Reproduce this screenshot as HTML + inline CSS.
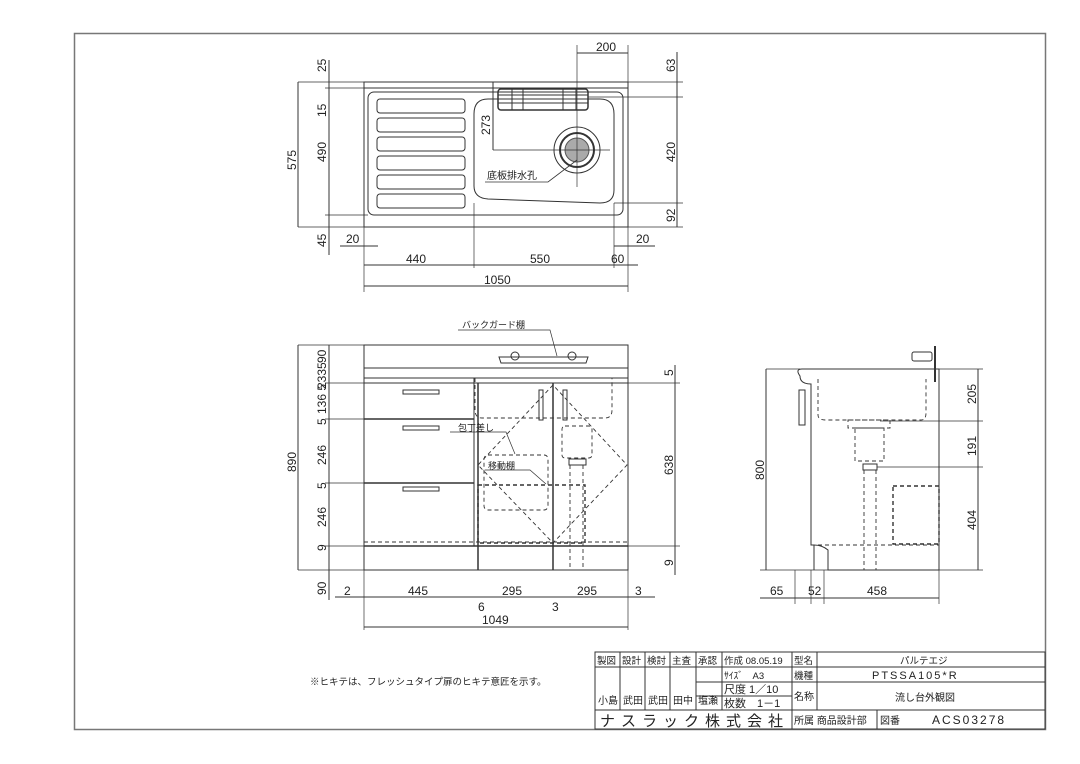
<!DOCTYPE html>
<html><head><meta charset="utf-8"><style>
html,body{margin:0;padding:0;background:#fff}
svg{display:block}
text{font-family:"Liberation Sans","Noto Sans CJK JP",sans-serif;fill:#222}
.d{font-size:12px}
</style></head><body>
<svg width="1080" height="764" viewBox="0 0 1080 764" xmlns="http://www.w3.org/2000/svg" stroke="#333" fill="none" stroke-width="1">
<rect x="74.5" y="33.5" width="971" height="696" stroke="#777" stroke-width="1.5"/>

<!-- ===== TOP VIEW ===== -->
<rect x="364" y="82" width="264" height="145"/>
<line x1="364" y1="88" x2="628" y2="88"/>
<rect x="368" y="92" width="255" height="123" rx="6"/>
<g>
<rect x="377" y="99" width="88" height="14" rx="3"/>
<rect x="377" y="118" width="88" height="14" rx="3"/>
<rect x="377" y="137" width="88" height="14" rx="3"/>
<rect x="377" y="156" width="88" height="14" rx="3"/>
<rect x="377" y="175" width="88" height="14" rx="3"/>
<rect x="377" y="194" width="88" height="14" rx="3"/>
</g>
<path d="M488 99 H600 Q614 99 614 114 V190 Q614 203 600 203 Q540 201 488 199 Q474 198 474 186 V114 Q474 99 488 99 Z"/>
<rect x="498" y="89" width="90" height="21" rx="3" stroke-width="1.5"/>
<line x1="498" y1="95" x2="588" y2="95"/><line x1="498" y1="103" x2="588" y2="103"/>
<line x1="512" y1="89" x2="512" y2="110"/><line x1="523" y1="89" x2="523" y2="110"/><line x1="563" y1="89" x2="563" y2="110"/><line x1="576" y1="89" x2="576" y2="110"/>
<circle cx="577" cy="150" r="23"/><circle cx="577" cy="150" r="17" stroke-width="2"/><circle cx="577" cy="150" r="12" fill="#aaa" stroke="#555"/>
<line x1="545" y1="150" x2="610" y2="150" stroke-width="0.7"/><line x1="577" y1="45" x2="577" y2="187" stroke-width="0.7"/>
<!-- dims top -->
<line x1="298" y1="82" x2="364" y2="82" stroke-width=".7"/><line x1="298" y1="227" x2="364" y2="227" stroke-width=".7"/>
<line x1="298" y1="82" x2="298" y2="227"/>
<line x1="329" y1="60" x2="329" y2="255"/>
<line x1="325" y1="88" x2="364" y2="88" stroke-width=".7"/><line x1="325" y1="215" x2="368" y2="215" stroke-width=".7"/>
<line x1="493" y1="82" x2="493" y2="150"/><line x1="493" y1="150" x2="545" y2="150" stroke-width=".7"/>
<line x1="577" y1="53" x2="628" y2="53"/><line x1="628" y1="45" x2="628" y2="82" stroke-width=".7"/>
<line x1="677" y1="52" x2="677" y2="227"/>
<line x1="628" y1="82" x2="683" y2="82" stroke-width=".7"/><line x1="588" y1="97" x2="683" y2="97" stroke-width=".7"/><line x1="614" y1="203" x2="683" y2="203" stroke-width=".7"/><line x1="628" y1="227" x2="683" y2="227" stroke-width=".7"/>
<line x1="364" y1="227" x2="364" y2="292" stroke-width=".7"/><line x1="628" y1="227" x2="628" y2="292" stroke-width=".7"/>
<line x1="474" y1="203" x2="474" y2="268" stroke-width=".7"/><line x1="614" y1="203" x2="614" y2="268" stroke-width=".7"/>
<line x1="340" y1="246" x2="378" y2="246"/><line x1="614" y1="246" x2="655" y2="246"/>
<line x1="364" y1="265" x2="638" y2="265"/>
<line x1="364" y1="286" x2="628" y2="286"/>
<path d="M577 160 L548 182 H485" stroke-width=".8"/>
<text x="487" y="179" font-size="10" stroke="none">底板排水孔</text>
<g stroke="none">
<text x="596" y="51" class="d">200</text>
<text x="406" y="263" class="d">440</text>
<text x="530" y="263" class="d">550</text>
<text x="611" y="263" class="d">60</text>
<text x="346" y="243" class="d">20</text>
<text x="636" y="243" class="d">20</text>
<text x="484" y="284" class="d">1050</text>
<text class="d" transform="translate(296,170) rotate(-90)">575</text>
<text class="d" transform="translate(326,72) rotate(-90)">25</text>
<text class="d" transform="translate(326,117) rotate(-90)">15</text>
<text class="d" transform="translate(326,162) rotate(-90)">490</text>
<text class="d" transform="translate(326,247) rotate(-90)">45</text>
<text class="d" transform="translate(490,135) rotate(-90)">273</text>
<text class="d" transform="translate(675,72) rotate(-90)">63</text>
<text class="d" transform="translate(675,162) rotate(-90)">420</text>
<text class="d" transform="translate(675,222) rotate(-90)">92</text>
</g>

<!-- ===== FRONT VIEW ===== -->
<rect x="364" y="345" width="264" height="225"/>
<line x1="364" y1="368" x2="628" y2="368"/>
<line x1="364" y1="378" x2="628" y2="378"/>
<line x1="364" y1="383" x2="628" y2="383"/>
<line x1="364" y1="546" x2="628" y2="546" stroke-width="1.5"/>
<line x1="364" y1="419" x2="474" y2="419" stroke-width="1.5"/>
<line x1="364" y1="483" x2="474" y2="483" stroke-width="1.5"/>
<line x1="474" y1="378" x2="474" y2="546"/><line x1="478" y1="383" x2="478" y2="570" stroke-width="1.5"/>
<line x1="553" y1="383" x2="553" y2="570" stroke-width="1.5"/>
<rect x="403" y="390" width="36" height="4"/><rect x="403" y="426" width="36" height="4"/><rect x="403" y="487" width="36" height="4"/>
<path d="M499 357 H588 L586 363 H501 Z"/><circle cx="515" cy="356" r="4"/><circle cx="572" cy="356" r="4"/>
<rect x="539" y="390" width="4" height="30"/><rect x="563" y="390" width="4" height="30"/>
<g stroke-dasharray="4 3" stroke-width=".9">
<path d="M553 385 L478 465 L553 543 L627 465 Z"/>
<path d="M475 378 V410 Q475 418 482 418 H605 Q612 418 612 410 V378"/>
<rect x="484" y="455" width="64" height="55" rx="4"/>
<rect x="478" y="485" width="107" height="58" stroke-width="1.4"/>
<rect x="562" y="426" width="30" height="32" rx="3"/>
<line x1="570" y1="465" x2="570" y2="570"/><line x1="583" y1="465" x2="583" y2="570"/>
<line x1="364" y1="542" x2="628" y2="542"/>
</g>
<rect x="569" y="459" width="17" height="6"/>
<path d="M450 432 H506 L515 454" stroke-width=".7"/><text x="458" y="431" font-size="9" stroke="none">包丁差し</text>
<path d="M485 470 H530 L546 484" stroke-width=".7"/><text x="488" y="469" font-size="9" stroke="none">移動棚</text>
<path d="M458 330 H550 L557 356" stroke-width=".7"/><text x="462" y="328" font-size="9" stroke="none">バックガード棚</text>
<!-- front dims -->
<line x1="298" y1="345" x2="364" y2="345" stroke-width=".7"/><line x1="298" y1="570" x2="364" y2="570" stroke-width=".7"/>
<line x1="298" y1="345" x2="298" y2="570"/>
<line x1="329" y1="345" x2="329" y2="600"/>
<line x1="325" y1="383" x2="364" y2="383" stroke-width=".7"/><line x1="325" y1="419" x2="364" y2="419" stroke-width=".7"/>
<line x1="325" y1="483" x2="364" y2="483" stroke-width=".7"/><line x1="325" y1="546" x2="364" y2="546" stroke-width=".7"/>
<line x1="628" y1="383" x2="680" y2="383" stroke-width=".7"/><line x1="628" y1="546" x2="680" y2="546" stroke-width=".7"/>
<line x1="675" y1="365" x2="675" y2="575"/>
<line x1="364" y1="570" x2="364" y2="630" stroke-width=".7"/><line x1="628" y1="570" x2="628" y2="630" stroke-width=".7"/>
<line x1="335" y1="597" x2="655" y2="597"/>
<line x1="364" y1="627" x2="628" y2="627"/>
<g stroke="none">
<text class="d" x="344" y="595">2</text><text class="d" x="408" y="595">445</text>
<text class="d" x="502" y="595">295</text><text class="d" x="577" y="595">295</text>
<text class="d" x="635" y="595">3</text><text class="d" x="478" y="611">6</text><text class="d" x="552" y="611">3</text>
<text class="d" x="482" y="624">1049</text>
<text class="d" transform="translate(296,472) rotate(-90)">890</text>
<text class="d" font-size="11" transform="translate(326,363) rotate(-90)">90</text>
<text class="d" font-size="11" transform="translate(326,389) rotate(-90)">2335</text>
<text class="d" font-size="11" transform="translate(326,414) rotate(-90)">136 5</text>
<text class="d" transform="translate(326,425) rotate(-90)">5</text>
<text class="d" transform="translate(326,465) rotate(-90)">246</text>
<text class="d" transform="translate(326,489) rotate(-90)">5</text>
<text class="d" transform="translate(326,527) rotate(-90)">246</text>
<text class="d" transform="translate(326,551) rotate(-90)">9</text>
<text class="d" transform="translate(326,595) rotate(-90)">90</text>
<text class="d" transform="translate(673,376) rotate(-90)">5</text>
<text class="d" transform="translate(673,475) rotate(-90)">638</text>
<text class="d" transform="translate(673,566) rotate(-90)">9</text>
</g>

<!-- ===== SIDE VIEW ===== -->
<path d="M800 376 Q795 369 802 369 H939 V570 H828 V550 Q822 545 814 545 H811 V384 Q800 384 800 376 Z"/>
<line x1="814" y1="545" x2="814" y2="570"/>
<path d="M935 346 V382" stroke-width="2"/>
<rect x="912" y="352" width="20" height="9" rx="2"/>
<rect x="799" y="390" width="6" height="35"/>
<g stroke-dasharray="4 3" stroke-width=".9">
<path d="M818 379 V415 Q818 420 826 420 H921 Q926 420 926 413 V379"/>
<rect x="848" y="420" width="42" height="8"/>
<rect x="855" y="428" width="29" height="33"/>
<line x1="864" y1="470" x2="864" y2="570"/><line x1="876" y1="470" x2="876" y2="570"/>
<rect x="893" y="486" width="46" height="58" stroke-width="1.4"/>
<line x1="818" y1="545" x2="939" y2="545"/>
</g>
<rect x="863" y="464" width="14" height="6"/>
<line x1="766" y1="369" x2="800" y2="369" stroke-width=".7"/><line x1="939" y1="369" x2="983" y2="369" stroke-width=".7"/>
<line x1="766" y1="369" x2="766" y2="570"/><line x1="760" y1="570" x2="939" y2="570" stroke-width=".7"/>
<line x1="978" y1="369" x2="978" y2="570"/>
<line x1="880" y1="421" x2="983" y2="421" stroke-width=".7"/><line x1="877" y1="467" x2="983" y2="467" stroke-width=".7"/>
<line x1="939" y1="570" x2="983" y2="570" stroke-width=".7"/>
<line x1="760" y1="598" x2="939" y2="598"/>
<line x1="795" y1="570" x2="795" y2="604" stroke-width=".7"/><line x1="811" y1="570" x2="811" y2="604" stroke-width=".7"/><line x1="824" y1="570" x2="824" y2="604" stroke-width=".7"/><line x1="939" y1="570" x2="939" y2="604" stroke-width=".7"/>
<g stroke="none">
<text class="d" x="770" y="595">65</text><text class="d" x="808" y="595">52</text><text class="d" x="867" y="595">458</text>
<text class="d" transform="translate(764,480) rotate(-90)">800</text>
<text class="d" transform="translate(976,404) rotate(-90)">205</text>
<text class="d" transform="translate(976,456) rotate(-90)">191</text>
<text class="d" transform="translate(976,530) rotate(-90)">404</text>
</g>

<!-- note -->
<text x="310" y="685" font-size="9.5" stroke="none">※ヒキテは、フレッシュタイプ扉のヒキテ意匠を示す。</text>

<!-- ===== TITLE BLOCK ===== -->
<g stroke-width="1">
<rect x="595" y="652" width="450" height="77"/>
<line x1="595" y1="667" x2="1045" y2="667"/>
<line x1="696" y1="682" x2="1045" y2="682"/>
<line x1="696" y1="696" x2="792" y2="696"/>
<line x1="595" y1="710" x2="1045" y2="710"/>
<line x1="620" y1="652" x2="620" y2="710"/><line x1="645" y1="652" x2="645" y2="710"/>
<line x1="670" y1="652" x2="670" y2="710"/><line x1="696" y1="652" x2="696" y2="710"/>
<line x1="722" y1="652" x2="722" y2="710"/><line x1="792" y1="652" x2="792" y2="729"/>
<line x1="817" y1="652" x2="817" y2="710"/><line x1="877" y1="710" x2="877" y2="729"/>
</g>
<g stroke="none" font-size="9.5">
<text x="597" y="664">製図</text><text x="622" y="664">設計</text><text x="647" y="664">検討</text><text x="672" y="664">主査</text><text x="698" y="664">承認</text>
<text x="724" y="664">作成 08.05.19</text><text x="794" y="664">型名</text><text x="900" y="664">パルテエジ</text>
<text x="724" y="679">ｻｲｽﾞ　A3</text><text x="794" y="679">機種</text><text x="872" y="679" font-size="11" letter-spacing="2">PTSSA105*R</text>
<text x="724" y="693" font-size="11">尺度 1／10</text><text x="724" y="707" font-size="11">枚数　1－1</text>
<text x="794" y="700" font-size="10">名称</text><text x="895" y="701" font-size="10">流し台外観図</text>
<text x="598" y="704" font-size="10">小島</text><text x="623" y="704" font-size="10">武田</text><text x="648" y="704" font-size="10">武田</text><text x="673" y="704" font-size="10">田中</text><text x="698" y="704" font-size="10">塩瀬</text>
<text x="600" y="726" font-size="15" letter-spacing="6">ナスラック株式会社</text>
<text x="794" y="724" font-size="10">所属 商品設計部</text><text x="880" y="724" font-size="10">図番</text>
<text x="932" y="724" font-size="12" letter-spacing="2">ACS03278</text>
</g>
</svg>
</body></html>
